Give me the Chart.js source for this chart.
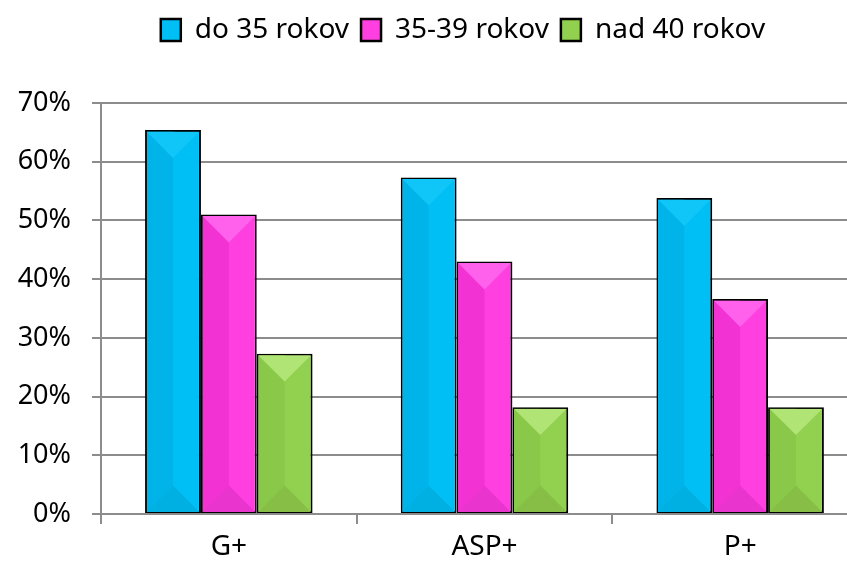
<!DOCTYPE html>
<html>
<head>
<meta charset="utf-8">
<script src="https://cdn.jsdelivr.net/npm/chart.js@4"></script>
<style>
  html, body { margin: 0; padding: 0; background: #fff; overflow: hidden; }
  #wrap { width: 868px; height: 565px; }
</style>
</head>
<body>
<div id="wrap"><canvas id="myChart" width="868" height="565"></canvas></div>
<script>
const categories = ["G+", "ASP+", "P+"];
const seriesNames = ["do 35 rokov", "35-39 rokov", "nad 40 rokov"];
const under35 = [65.4, 57.3, 53.8];
const from35to39 = [51.0, 43.0, 36.6];
const over40 = [27.3, 18.2, 18.2];
const yTicks = [0, 10, 20, 30, 40, 50, 60, 70];

// fill, left side, top facet, bottom facet
const shades = [
  ["#00BFF5", "#00B4EA", "#10C6F8", "#00B0E2"],
  ["#FF3FE0", "#F232D2", "#FF60EC", "#EA34CE"],
  ["#92D050", "#8AC84A", "#B0E474", "#86BE46"],
];

const bevel = {
  id: "bevel",
  afterDatasetsDraw(chart) {
    const c = chart.ctx;
    chart.data.datasets.forEach((ds, i) => {
      const s = shades[i];
      chart.getDatasetMeta(i).data.forEach((bar) => {
        const w = bar.width;
        const l = bar.x - w / 2 + 1.5, r = bar.x + w / 2 - 1.5;
        const t = bar.y + 1.5, b = bar.base - 1;
        const d = Math.min((r - l) / 2, (b - t) / 2);
        c.save();
        c.beginPath();
        c.rect(l, t, r - l, b - t);
        c.clip();
        c.fillStyle = s[1];
        c.fillRect(l, t, (r - l) / 2, b - t);
        c.fillStyle = s[2];
        c.beginPath();
        c.moveTo(l, t); c.lineTo(r, t); c.lineTo(bar.x, t + d); c.closePath();
        c.fill();
        c.fillStyle = s[3];
        c.beginPath();
        c.moveTo(l, b); c.lineTo(r, b); c.lineTo(bar.x, b - d); c.closePath();
        c.fill();
        c.restore();
      });
    });
  },
};

// extra space under the legend, and legend shifted right like the original
const legendGap = {
  id: "legendGap",
  beforeInit(chart) {
    const fit = chart.legend.fit;
    chart.legend.fit = function () {
      fit.bind(chart.legend)();
      this.height += 49;
    };
  },
  afterLayout(chart) {
    chart.legend.left += 58;
  },
};

const ctx = document.getElementById("myChart").getContext("2d");
Chart.defaults.font.family = "'Noto Sans', 'Open Sans', sans-serif";
Chart.defaults.color = "#000";

const myChart = new Chart(ctx, {
  type: "bar",
  data: {
    labels: categories,
    datasets: [under35, from35to39, over40].map((vals, i) => ({
      label: seriesNames[i],
      data: vals,
      backgroundColor: shades[i][0],
      borderColor: "#000",
      borderWidth: 2,
      borderSkipped: false,
      categoryPercentage: 0.655,
      barPercentage: 1,
    })),
  },
  options: {
    responsive: false,
    animation: false,
    layout: { padding: { top: 4, left: 0, right: 0, bottom: 0 } },
    plugins: {
      tooltip: { enabled: false },
      legend: {
        labels: {
          boxWidth: 20,
          boxHeight: 22,
          padding: 12,
          font: { size: 28 },
          generateLabels(chart) {
            return chart.data.datasets.map((ds, i) => ({
              text: ds.label,
              fillStyle: shades[i][0],
              strokeStyle: "#000",
              lineWidth: 2.5,
              datasetIndex: i,
            }));
          },
        },
      },
    },
    scales: {
      x: {
        grid: {
          offset: true,
          drawOnChartArea: false,
          drawTicks: true,
          tickLength: 10,
          color: "#8c8c8c",
          lineWidth: 2,
        },
        border: { color: "#8c8c8c", width: 2 },
        ticks: { font: { size: 28 }, padding: 6 },
        afterFit(scale) { scale.height = 51; },
      },
      y: {
        min: 0,
        max: 70,
        afterBuildTicks(scale) { scale.ticks = yTicks.map((v) => ({ value: v })); },
        grid: { color: "#8c8c8c", lineWidth: 2, tickLength: 9 },
        border: { color: "#8c8c8c", width: 2 },
        ticks: { font: { size: 27 }, padding: 21, callback: (v) => v + "%" },
        afterFit(scale) { scale.width = 101; },
      },
    },
  },
  plugins: [bevel, legendGap],
});
</script>
</body>
</html>
